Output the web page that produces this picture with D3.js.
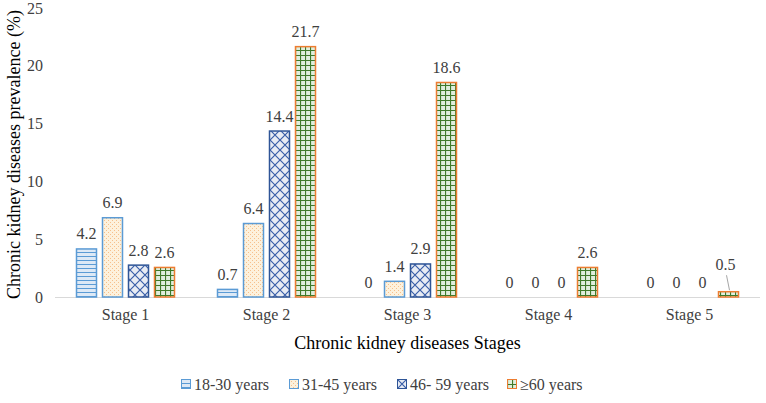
<!DOCTYPE html>
<html><head><meta charset="utf-8">
<script src="https://cdn.jsdelivr.net/npm/d3@7"></script>
<style>body{margin:0;background:#fff}svg{display:block}</style>
</head><body><svg id="c" width="766" height="403"></svg>
<script>
const categories = ["Stage 1","Stage 2","Stage 3","Stage 4","Stage 5"];
const seriesNames = ["18-30 years","31-45 years","46- 59 years","\u226560 years"];
const s1830 = [4.2, 0.7, 0, 0, 0];
const s3145 = [6.9, 6.4, 1.4, 0, 0];
const s4659 = [2.8, 14.4, 2.9, 0, 0];
const s60 = [2.6, 21.7, 18.6, 2.6, 0.5];
const yTicks = [0,5,10,15,20,25];
const series = [s1830, s3145, s4659, s60];

const FONT = "'Liberation Serif'";
const svg = d3.select("#c");
const margin = {left:55, right:6, top:8, bottom:106};
const W = 766, H = 403;
const x = d3.scaleBand().domain(categories).range([margin.left, W - margin.right]).paddingInner(0).paddingOuter(0);
const y = d3.scaleLinear().domain([0,25]).range([H - margin.bottom, margin.top]);
const barW = 21, gap = 5;

const defs = svg.append("defs");
let p = defs.append("pattern").attr("id","p0").attr("patternUnits","userSpaceOnUse").attr("width",6).attr("height",4);
p.append("rect").attr("width",6).attr("height",4).attr("fill","#dde9f6");
p.append("line").attr("x1",0).attr("x2",6).attr("y1",0.5).attr("y2",0.5).attr("stroke","#5b9bd5").attr("stroke-width",1);
p = defs.append("pattern").attr("id","p1").attr("patternUnits","userSpaceOnUse").attr("width",4).attr("height",4);
p.append("rect").attr("width",4).attr("height",4).attr("fill","#fdf1dc");
p.append("rect").attr("x",0).attr("y",0).attr("width",1).attr("height",1).attr("fill","#f6c08c");
p.append("rect").attr("x",2).attr("y",2).attr("width",1).attr("height",1).attr("fill","#f6c08c");
p = defs.append("pattern").attr("id","p2").attr("patternUnits","userSpaceOnUse").attr("width",10).attr("height",10);
p.append("rect").attr("width",10).attr("height",10).attr("fill","#e8ecf4");
p.append("path").attr("d","M0,0L10,10M10,0L0,10").attr("stroke","#3a5fa8").attr("stroke-width",1.2);
p = defs.append("pattern").attr("id","p3").attr("patternUnits","userSpaceOnUse").attr("width",5).attr("height",5);
p.append("rect").attr("width",5).attr("height",5).attr("fill","#dfeedd");
p.append("path").attr("d","M0,0.5H5M0.5,0V5").attr("stroke","#3f7a2a").attr("stroke-width",1.2);

const strokes = ["#5b9bd5","#5b9bd5","#2f5597","#ed7d31"];

svg.append("line").attr("x1",margin.left).attr("x2",W-margin.right).attr("y1",y(0)+0.5).attr("y2",y(0)+0.5).attr("stroke","#d9d9d9").attr("stroke-width",1);

const yAxis = d3.axisLeft(y).tickValues(yTicks).tickSize(0).tickPadding(0);
const ga = svg.append("g").attr("transform",`translate(${margin.left-12},0)`).call(yAxis);
ga.attr("font-family",null).attr("font-size",null);
ga.select(".domain").remove();
ga.selectAll("text").style("font-family",FONT).style("font-size","16px").attr("fill","#404040");

const xAxis = d3.axisBottom(x).tickSize(0).tickPadding(12);
const gx = svg.append("g").attr("transform",`translate(0,${y(0)})`).call(xAxis);
gx.attr("font-family",null).attr("font-size",null);
gx.select(".domain").remove();
gx.selectAll("text").style("font-family",FONT).style("font-size","16px").attr("fill","#404040");

series.forEach((vals, si) => {
  categories.forEach((c, ci) => {
    const v = vals[ci];
    const cx = x(c) + x.bandwidth()/2;
    const bx = cx - (4*barW + 3*gap)/2 + si*(barW+gap);
    if (v > 0) {
      svg.append("rect").attr("x",bx+0.5).attr("y",y(v)+0.5).attr("width",barW-1).attr("height",y(0)-y(v)-0.5)
        .attr("fill",`url(#p${si})`).attr("stroke",strokes[si]).attr("stroke-width",1.5);
    }
    let ly = y(v) - 9;
    let lx = bx + barW/2;
    if (si===3 && ci===4) {
      ly = y(v) - 21;
      lx = bx + barW/2 - 3;
      svg.append("line").attr("x1",bx+barW/2-2).attr("x2",bx+barW/2+1).attr("y1",ly+5).attr("y2",y(v)-1).attr("stroke","#a6a6a6");
    }
    svg.append("text").attr("x",lx).attr("y",ly).attr("text-anchor","middle").style("font-family",FONT).style("font-size","16px").attr("fill","#404040").text(v);
  });
});

svg.append("text").attr("transform",`translate(20,${(y(0)+y(25))/2+2}) rotate(-90)`).attr("text-anchor","middle")
  .style("font-family",FONT).style("font-size","18px").attr("fill","#000").text("Chronic kidney diseases prevalence (%)");
svg.append("text").attr("x",(margin.left + W - margin.right)/2).attr("y",349).attr("text-anchor","middle")
  .style("font-family",FONT).style("font-size","18px").attr("fill","#000").text("Chronic kidney diseases Stages");

const legX = [181, 289, 397, 507];
seriesNames.forEach((n, i) => {
  const g = svg.append("g").attr("transform",`translate(${legX[i]},379)`);
  g.append("rect").attr("x",0.5).attr("y",0.5).attr("width",9).attr("height",9).attr("fill",`url(#p${i})`).attr("stroke",strokes[i]).attr("stroke-width",1);
  g.append("text").attr("x",13).attr("y",10.5).style("font-family",FONT).style("font-size","16px").attr("fill","#404040").text(n);
});
</script></body></html>
